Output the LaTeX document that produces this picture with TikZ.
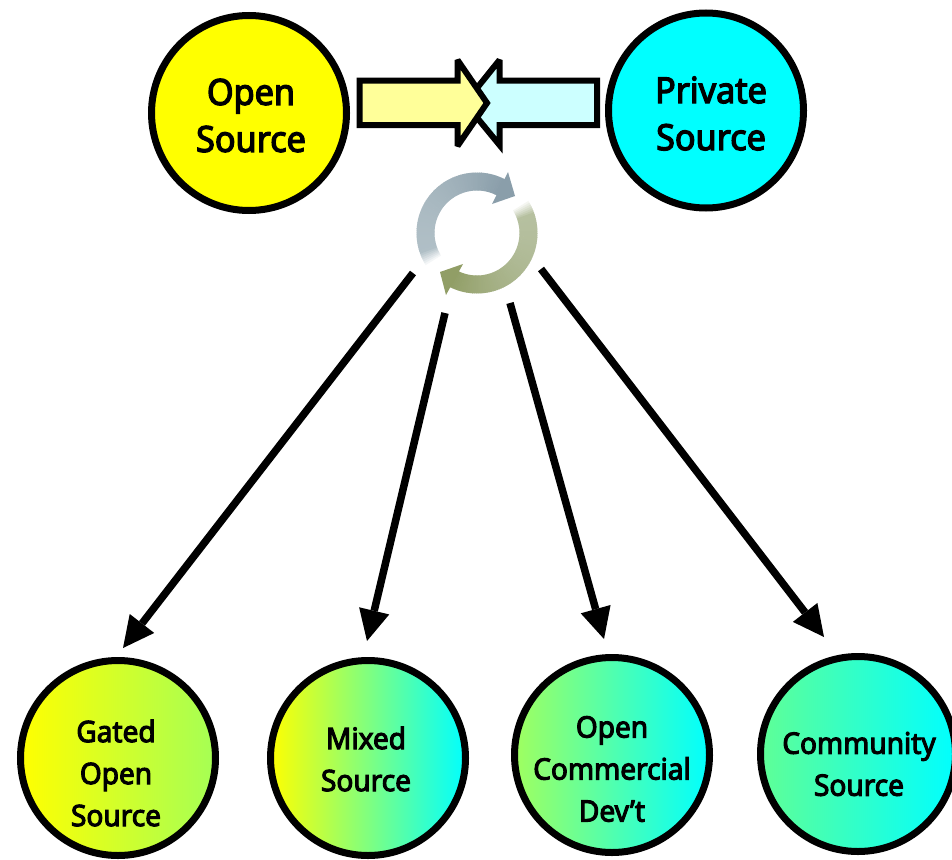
\documentclass[tikz,border=0pt]{standalone}
\usepackage{fontspec}
\setmainfont{Noto Sans}[FakeBold=3.5,FakeStretch=0.95]
\usetikzlibrary{arrows.meta}
\definecolor{cyanA}{RGB}{0,255,255}
\definecolor{yelA}{RGB}{255,255,0}
\definecolor{yelB}{RGB}{255,255,153}
\definecolor{cyaB}{RGB}{204,255,255}
\definecolor{grayA}{RGB}{176,191,198}
\definecolor{grayB}{RGB}{138,158,170}
\definecolor{grnA}{RGB}{182,192,160}
\definecolor{grnB}{RGB}{145,158,102}
\tikzset{
  x=1pt,y=-1pt,
  disc/.style={circle,draw=black,line width=7pt,minimum size=195pt,inner sep=0pt},
  biglabel/.style={align=center,inner sep=0pt,font=\fontsize{36}{47}\selectfont},
  smalllabel/.style={align=center,inner sep=0pt,font=\fontsize{29.5}{42}\selectfont},
  fatarrow/.style={draw=black,line width=6pt,line join=miter,miter limit=3},
  conn/.style={line width=7.5pt,-{Triangle[length=31pt,width=31pt,line width=0pt]}}
}
\newcommand{\ringpart}[5]{%
  % #1 start angle, #2 end angle, #3 start colour, #4 end colour, #5 fade span
  \foreach \a in {#1,\the\numexpr#1+2\relax,...,#2}{%
    \pgfmathsetmacro{\p}{100*((\a-#1)/(#2-#1))^2}%
    \pgfmathsetmacro{\f}{min(100,100*(\a-#1)/#5)}%
    \pgfmathsetmacro{\e}{\a+(\a<#2?2.6:0)}%
    \colorlet{segbase}{#4!\p!#3}%
    \fill[segbase!\f!white]
      ([shift={(477,233)}]\a:60.5) arc[start angle=\a,end angle=\e,radius=60.5]
      -- ([shift={(477,233)}]\e:42.5) arc[start angle=\e,end angle=\a,radius=42.5] -- cycle;
  }%
}
\begin{document}
\begin{tikzpicture}
\clip (0,0) rectangle (952,859);
\fill[white] (0,0) rectangle (952,859);

% top discs
\node[disc,fill=yelA] (open) at (249,113) {};
\node[disc,fill=cyanA] (private) at (706,110.5) {};
\node[biglabel] (openT) at (251,115.5) {Open\\Source};
\node[biglabel] (privateT) at (711,113.5) {Private\\Source};

% facing block arrows
\draw[fatarrow,fill=cyaB] (597,80.5) -- (499.5,80.5) -- (499.5,60) -- (465,103) -- (499.5,145) -- (499.5,125) -- (597,125) -- cycle;
\draw[fatarrow,fill=yelB] (359.5,80.5) -- (457.5,80.5) -- (457.5,60) -- (487,103) -- (457.5,146) -- (457.5,125) -- (359.5,125) -- cycle;

% cycle symbol
\ringpart{146}{297}{grayA}{grayB}{14}
\fill[grayB] (508,172) -- (515,196) -- (492,204) -- cycle;
\ringpart{326}{477}{grnA}{grnB}{14}
\fill[grnB] (463,264) -- (440,272) -- (446,295) -- cycle;

% connector ends
\coordinate (s1) at (413,273);
\coordinate (s2) at (445,313);
\coordinate (s3) at (510,303);
\coordinate (s4) at (541,269);
\coordinate (e1) at (123,648);
\coordinate (e2) at (367,641);
\coordinate (e3) at (604,639);
\coordinate (e4) at (824,637);
\draw[conn] (s1) -- (e1);
\draw[conn] (s2) -- (e2);
\draw[conn] (s3) -- (e3);
\draw[conn] (s4) -- (e4);

% lower discs
\node[disc,left color=yelA,right color={rgb,255:red,165;green,255;blue,85}] (gated) at (118,758) {};
\node[disc,left color=yelA,right color=cyanA] (mixed) at (368,758) {};
\node[disc,left color={rgb,255:red,160;green,255;blue,95},right color=cyanA] (commercial) at (612,755) {};
\node[disc,left color={rgb,255:red,95;green,255;blue,150},right color=cyanA] (community) at (858,754) {};

\node[smalllabel] (gatedT) at (116,773) {Gated\\Open\\Source};
\node[smalllabel] (mixedT) at (366,759) {Mixed\\Source};
\node[smalllabel] (commercialT) at (612,769) {Open\\Commercial\\Dev’t};
\node[smalllabel] (communityT) at (859,764) {Community\\Source};
\end{tikzpicture}
\end{document}
